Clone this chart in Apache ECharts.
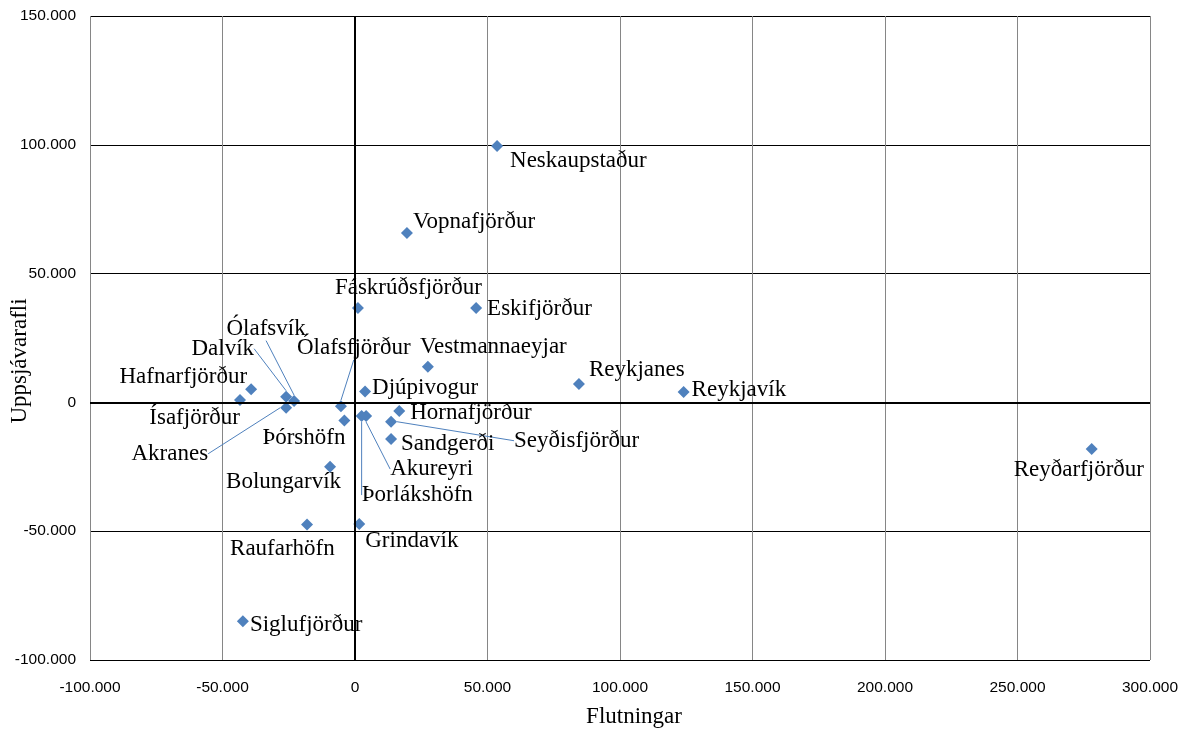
<!DOCTYPE html>
<html>
<head>
<meta charset="utf-8">
<script src="https://cdn.jsdelivr.net/npm/echarts@6/dist/echarts.min.js"></script>
<style>
  html, body { margin: 0; padding: 0; background: #fff; }
  #chart { width: 1179px; height: 731px; }
</style>
</head>
<body>
<div id="chart"></div>
<script>
// staðir, flutningar (x) og uppsjávarafli (y)
const names = [
  'Neskaupstaður', 'Vopnafjörður', 'Fáskrúðsfjörður', 'Eskifjörður', 'Vestmannaeyjar',
  'Reykjanes', 'Reykjavík', 'Reyðarfjörður', 'Djúpivogur', 'Hornafjörður',
  'Sandgerði', 'Seyðisfjörður', 'Akureyri', 'Þorlákshöfn', 'Ólafsfjörður',
  'Þórshöfn', 'Bolungarvík', 'Grindavík', 'Raufarhöfn', 'Siglufjörður',
  'Hafnarfjörður', 'Ísafjörður', 'Dalvík', 'Ólafsvík', 'Akranes'
]
const flutningar = [
  53.6, 19.6, 1.1, 45.7, 27.5,
  84.5, 124.0, 278.0, 3.8, 16.7,
  13.6, 13.6, 4.2, 2.5, -5.3,
  -4.0, -9.4, 1.6, -18.1, -42.3,
  -39.2, -43.4, -26.0, -23.0, -26.0
]
const uppsjavarafli = [
  99.5, 65.8, 36.6, 36.6, 13.8,
  7.1, 4.0, -18.1, 4.2, -3.3,
  -14.2, -7.5, -5.3, -5.3, -1.5,
  -7.0, -25.0, -47.2, -47.4, -85.0,
  5.1, 0.9, 2.2, 0.5, -2.1
]
const xTicks = { min: -100, max: 300, step: 50 }
const yTicks = { min: -100, max: 150, step: 50 }

// staðsetning merkja miðað við punkt: [dx, dy, align, leiðarlína]
const labelPos = {
  'Neskaupstaður': [13, 15, 'left'],
  'Vopnafjörður': [6, -11, 'left'],
  'Fáskrúðsfjörður': [-23, -20, 'left'],
  'Eskifjörður': [11, 1, 'left'],
  'Vestmannaeyjar': [-8, -20, 'left'],
  'Reykjanes': [10, -14, 'left'],
  'Reykjavík': [8, -2, 'left'],
  'Reyðarfjörður': [-78, 21, 'left'],
  'Djúpivogur': [7, -4, 'left'],
  'Hornafjörður': [11, 2, 'left'],
  'Sandgerði': [10, 5, 'left'],
  'Seyðisfjörður': [123, 19, 'left', true],
  'Akureyri': [24, 53, 'left', true],
  'Þorlákshöfn': [0, 79, 'left', true],
  'Ólafsfjörður': [-44, -58, 'left', true],
  'Þórshöfn': [-82, 18, 'left'],
  'Bolungarvík': [-104, 15, 'left'],
  'Grindavík': [6, 17, 'left'],
  'Raufarhöfn': [-77, 24, 'left'],
  'Siglufjörður': [7, 4, 'left'],
  'Hafnarfjörður': [-4, -12, 'right'],
  'Ísafjörður': [0, 18, 'right'],
  'Dalvík': [-32, -48, 'right', true],
  'Ólafsvík': [-28, -72, 'center', true],
  'Akranes': [-78, 46, 'right', true]
}

const serif = '"Liberation Serif", "Times New Roman", serif'
const sans = '"Liberation Sans", Arial, sans-serif'

function fmt(v) {
  if (v === 0) return '0'
  return (v < 0 ? '-' : '') + Math.abs(v) + '.000'
}

const points = names.map((n, i) => ({
  name: n,
  value: [flutningar[i], uppsjavarafli[i]],
  labelLine: { show: !!labelPos[n][3] }
}))

const chart = echarts.init(document.getElementById('chart'), null, { renderer: 'canvas' })

chart.setOption({
  backgroundColor: '#ffffff',
  animation: false,
  grid: { left: 90, right: 29, top: 16, bottom: 71, containLabel: false, outerBoundsMode: 'none' },
  // heiti y-áss (Excel setur það ekki alveg fyrir miðju)
  graphic: [{
    type: 'text',
    x: 20,
    y: 361,
    rotation: Math.PI / 2,
    silent: true,
    style: {
      text: 'Uppsjávarafli',
      font: '23px ' + serif,
      fill: '#000',
      align: 'center',
      verticalAlign: 'middle'
    }
  }],
  xAxis: {
    type: 'value',
    min: xTicks.min,
    max: xTicks.max,
    interval: xTicks.step,
    name: 'Flutningar',
    nameLocation: 'middle',
    nameGap: 45,
    nameTextStyle: { fontFamily: serif, fontSize: 23, color: '#000', padding: [0, 0, 0, 28] },
    axisLine: { show: false },
    axisTick: { show: false },
    axisLabel: { formatter: fmt, fontFamily: sans, fontSize: 15.5, color: '#000', margin: 20 },
    splitLine: { show: true, lineStyle: { color: '#868686', width: 1 } }
  },
  yAxis: {
    type: 'value',
    min: yTicks.min,
    max: yTicks.max,
    interval: yTicks.step,
    axisLine: { show: false },
    axisTick: { show: false },
    axisLabel: { formatter: fmt, fontFamily: sans, fontSize: 15.5, color: '#000', margin: 14 },
    splitLine: { show: true, lineStyle: { color: '#000', width: 1 } }
  },
  series: [{
    type: 'scatter',
    symbol: 'diamond',
    symbolSize: 12,
    itemStyle: { color: '#4F81BD', opacity: 1 },
    data: points,
    label: {
      show: true,
      formatter: '{b}',
      fontFamily: serif,
      fontSize: 23,
      color: '#000'
    },
    labelLine: {
      show: false,
      lineStyle: { color: '#4F81BD', width: 1 }
    },
    labelLayout: function (p) {
      const o = labelPos[names[p.dataIndex]]
      const cx = p.rect.x + p.rect.width / 2
      const cy = p.rect.y + p.rect.height / 2
      return { x: cx + o[0], y: cy + o[1], align: o[2], verticalAlign: 'middle' }
    },
    markLine: {
      silent: true,
      symbol: 'none',
      label: { show: false },
      lineStyle: { color: '#000', width: 2, type: 'solid' },
      data: [{ xAxis: 0 }, { yAxis: 0 }]
    },
    z: 3
  }]
})

window.addEventListener('resize', () => chart.resize())
</script>
</body>
</html>
